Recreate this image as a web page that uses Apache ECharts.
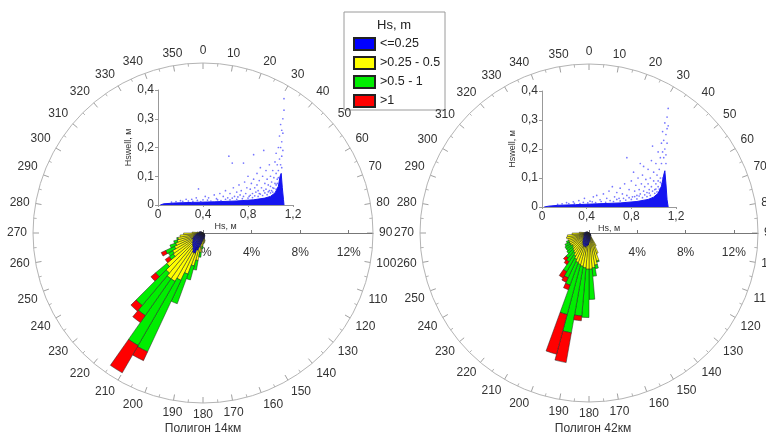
<!DOCTYPE html>
<html>
<head>
<meta charset="utf-8">
<script src="https://cdn.jsdelivr.net/npm/echarts@6/dist/echarts.min.js"></script>
<style>
  html, body { margin: 0; padding: 0; background: #fff; }
  #chart { width: 766px; height: 438px; }
</style>
</head>
<body>
<div id="chart"></div>
<script>
// ---------- data ----------
const classNames = ['<=0.25', '>0.25 - 0.5', '>0.5 - 1', '>1']

// 5-degree direction sectors (sector centres), shared by both roses
const dirs = [122.5, 127.5, 132.5, 137.5, 142.5, 147.5, 152.5, 157.5, 162.5, 167.5,
  172.5, 177.5, 182.5, 187.5, 192.5, 197.5, 202.5, 207.5, 212.5, 217.5,
  222.5, 227.5, 232.5, 237.5, 242.5, 247.5, 252.5, 257.5, 262.5, 267.5,
  272.5, 277.5, 282.5, 287.5, 292.5, 297.5, 302.5]

// Полигон 14км, % per Hs class
const blueL = [0.15, 0.15, 0.2, 0.2, 0.25, 0.25, 0.3, 0.35, 0.4, 0.5,
  0.5, 0.6, 0.7, 0.9, 1.2, 1.5, 1.8, 1.8, 1.6, 1.4,
  1.3, 1.2, 1.1, 1.0, 1.0, 0.9, 0.8, 0.7, 0.6, 0.5,
  0.4, 0.35, 0.3, 0.3, 0.25, 0.2, 0.15]
const yellowL = [0, 0, 0, 0, 0, 0, 0, 0, 0, 0.2,
  0.3, 0.3, 0.4, 0.7, 1.1, 1.3, 1.8, 2.5, 3.0, 3.2,
  3.0, 2.7, 1.9, 1.9, 1.6, 1.5, 1.4, 1.4, 1.3, 1.1,
  0.5, 0.15, 0, 0, 0, 0, 0]
const greenL = [0, 0, 0, 0, 0, 0, 0, 0, 0, 0,
  0, 0, 0.2, 0.4, 0.8, 1.2, 2.6, 6.5, 6.1, 3.7,
  3.5, 1.2, 0.4, 0.4, 0.8, 0.5, 0.3, 0.1, 0, 0,
  0, 0, 0, 0, 0, 0, 0]
const redL = [0, 0, 0, 0, 0, 0, 0, 0, 0, 0,
  0, 0, 0, 0, 0, 0, 0, 0.8, 2.6, 0.7,
  0.6, 0.5, 0.4, 0, 0.4, 0, 0, 0, 0, 0,
  0, 0, 0, 0, 0, 0, 0]

// Полигон 42км, % per Hs class
const blueR = [0.15, 0.15, 0.2, 0.2, 0.25, 0.3, 0.3, 0.4, 0.5, 0.6,
  0.7, 0.8, 1.0, 1.1, 1.2, 1.2, 1.2, 1.1, 1.0, 0.9,
  0.8, 0.7, 0.6, 0.6, 0.5, 0.5, 0.5, 0.5, 0.5, 0.4,
  0.4, 0.3, 0.3, 0.25, 0.2, 0.2, 0.15]
const yellowR = [0, 0, 0, 0, 0, 0, 0.9, 1.4, 1.9, 2.1,
  2.2, 2.2, 2.0, 1.8, 1.6, 1.5, 1.4, 1.3, 1.2, 1.1,
  1.1, 1.1, 1.1, 1.2, 1.3, 1.3, 1.3, 1.4, 1.3, 1.0,
  0.4, 0, 0, 0, 0, 0, 0]
const greenR = [0, 0, 0, 0, 0, 0, 0, 0, 0.1, 0.3,
  0.7, 2.5, 4.0, 4.0, 5.6, 4.3, 2.0, 1.7, 1.5, 0.9,
  0.8, 0.6, 0.6, 0.5, 0.4, 0.2, 0, 0, 0, 0,
  0, 0, 0, 0, 0, 0, 0]
const redR = [0, 0, 0, 0, 0, 0, 0, 0, 0, 0,
  0, 0, 0, 0.4, 2.5, 3.4, 0.4, 0.4, 0.6, 0.3,
  0.3, 0, 0, 0, 0, 0, 0, 0, 0, 0,
  0, 0, 0, 0, 0, 0, 0]

// inset Hswell vs Hs: dense core (upper edge) + scattered points
const coreL = [[0.02, 0], [0.05, 0.004], [0.15, 0.007], [0.3, 0.009], [0.5, 0.011], [0.7, 0.014],
  [0.85, 0.018], [0.95, 0.024], [1.0, 0.03], [1.04, 0.042], [1.07, 0.065], [1.085, 0.1],
  [1.095, 0.11], [1.105, 0.06], [1.115, 0.02], [1.12, 0]]
const pointsL = [[0.2, 0.015], [0.25, 0.02], [0.3, 0.02], [0.34, 0.025], [0.36, 0.056], [0.4, 0.018],
  [0.42, 0.03], [0.45, 0.025], [0.5, 0.035], [0.52, 0.022], [0.55, 0.04], [0.58, 0.03],
  [0.6, 0.05], [0.62, 0.025], [0.63, 0.17], [0.64, 0.04], [0.66, 0.146], [0.67, 0.06],
  [0.68, 0.03], [0.7, 0.045], [0.72, 0.07], [0.73, 0.035], [0.74, 0.05], [0.76, 0.146],
  [0.77, 0.08], [0.78, 0.04], [0.79, 0.06], [0.8, 0.1], [0.81, 0.03], [0.82, 0.055],
  [0.83, 0.075], [0.84, 0.04], [0.85, 0.175], [0.85, 0.09], [0.86, 0.06], [0.87, 0.045],
  [0.88, 0.11], [0.88, 0.07], [0.89, 0.05], [0.9, 0.085], [0.9, 0.04], [0.91, 0.13],
  [0.92, 0.06], [0.93, 0.1], [0.94, 0.19], [0.94, 0.05], [0.95, 0.075], [0.96, 0.12],
  [0.96, 0.055], [0.97, 0.09], [0.98, 0.07], [0.99, 0.14], [0.99, 0.05], [1.0, 0.1],
  [1.0, 0.065], [1.01, 0.08], [1.02, 0.12], [1.02, 0.06], [1.03, 0.095], [1.04, 0.15],
  [1.04, 0.075], [1.05, 0.11], [1.05, 0.18], [1.06, 0.09], [1.06, 0.14], [1.07, 0.2],
  [1.07, 0.12], [1.08, 0.16], [1.08, 0.24], [1.09, 0.14], [1.09, 0.2], [1.09, 0.28],
  [1.1, 0.22], [1.1, 0.17], [1.1, 0.26], [1.11, 0.3], [1.11, 0.19], [1.12, 0.33],
  [1.12, 0.37], [1.11, 0.25], [1.1, 0.13],
  [0.12, 0.01], [0.16, 0.012], [0.22, 0.013], [0.27, 0.014], [0.31, 0.013], [0.35, 0.016],
  [0.38, 0.012], [0.44, 0.017], [0.47, 0.014], [0.53, 0.018], [0.56, 0.015], [0.6, 0.02],
  [0.64, 0.018], [0.66, 0.024], [0.7, 0.02], [0.71, 0.028], [0.75, 0.022], [0.76, 0.03],
  [0.8, 0.024], [0.82, 0.034], [0.84, 0.026], [0.86, 0.032], [0.89, 0.03], [0.91, 0.038],
  [0.93, 0.033], [0.95, 0.042], [0.97, 0.036], [0.98, 0.046], [1.0, 0.042], [1.01, 0.05],
  [1.02, 0.045], [1.03, 0.058], [1.05, 0.055], [1.05, 0.07], [1.06, 0.075], [1.07, 0.095]]

const coreR = [[0.02, 0], [0.06, 0.003], [0.15, 0.006], [0.3, 0.008], [0.5, 0.011], [0.7, 0.014],
  [0.85, 0.019], [0.95, 0.026], [1.0, 0.034], [1.04, 0.047], [1.07, 0.072], [1.09, 0.11],
  [1.1, 0.125], [1.11, 0.08], [1.12, 0.025], [1.13, 0]]
const pointsR = [[0.22, 0.015], [0.28, 0.018], [0.33, 0.022], [0.38, 0.03], [0.43, 0.02], [0.46, 0.035],
  [0.49, 0.04], [0.52, 0.025], [0.55, 0.045], [0.58, 0.03], [0.6, 0.055], [0.63, 0.07],
  [0.65, 0.035], [0.67, 0.05], [0.69, 0.03], [0.7, 0.065], [0.72, 0.045], [0.74, 0.08],
  [0.76, 0.17], [0.76, 0.04], [0.78, 0.06], [0.8, 0.09], [0.81, 0.035], [0.82, 0.12],
  [0.83, 0.055], [0.84, 0.075], [0.85, 0.04], [0.86, 0.1], [0.87, 0.06], [0.88, 0.15],
  [0.88, 0.045], [0.89, 0.08], [0.9, 0.11], [0.91, 0.14], [0.91, 0.055], [0.92, 0.07],
  [0.93, 0.095], [0.94, 0.05], [0.95, 0.13], [0.95, 0.08], [0.96, 0.06], [0.97, 0.1],
  [0.98, 0.16], [0.98, 0.07], [0.99, 0.21], [1.0, 0.09], [1.0, 0.12], [1.01, 0.06],
  [1.02, 0.15], [1.02, 0.08], [1.03, 0.11], [1.04, 0.19], [1.04, 0.09], [1.05, 0.13],
  [1.06, 0.17], [1.06, 0.1], [1.07, 0.22], [1.07, 0.15], [1.08, 0.19], [1.08, 0.26],
  [1.09, 0.17], [1.09, 0.23], [1.1, 0.29], [1.1, 0.2], [1.11, 0.25], [1.11, 0.18],
  [1.12, 0.31], [1.12, 0.22], [1.13, 0.34], [1.13, 0.28], [1.12, 0.27], [1.11, 0.15],
  [0.14, 0.009], [0.18, 0.011], [0.24, 0.012], [0.29, 0.013], [0.34, 0.012], [0.37, 0.016],
  [0.41, 0.014], [0.45, 0.018], [0.48, 0.015], [0.53, 0.019], [0.57, 0.016], [0.61, 0.022],
  [0.64, 0.019], [0.67, 0.026], [0.7, 0.021], [0.73, 0.03], [0.75, 0.024], [0.78, 0.032],
  [0.8, 0.026], [0.83, 0.036], [0.85, 0.028], [0.87, 0.038], [0.9, 0.032], [0.92, 0.042],
  [0.94, 0.036], [0.96, 0.048], [0.97, 0.04], [0.99, 0.055], [1.01, 0.047], [1.02, 0.062],
  [1.03, 0.052], [1.04, 0.07], [1.05, 0.062], [1.06, 0.085], [1.07, 0.08], [1.08, 0.1]]

// ---------- helpers ----------
const FONT = 'Liberation Sans, Arial, sans-serif'
const classColors = ['#0000ff', '#ffff00', '#00ee00', '#ff0000']

// 72 sectors of 5 degrees
const sectorLabels = []
for (let a = 2.5; a < 360; a += 5) sectorLabels.push(String(a))

function toSectors(vals) {
  const out = sectorLabels.map(() => '-')
  dirs.forEach((d, i) => {
    if (vals[i] > 0) out[Math.round((d - 2.5) / 5)] = vals[i]
  })
  return out
}

const commaFmt = (v) => (v === 0 ? '0' : v.toFixed(1).replace('.', ','))

const roses = [
  { center: [203, 233], radius: 170, classes: [blueL, yellowL, greenL, redL], title: 'Полигон 14км', core: coreL, points: pointsL,
    grid: { left: 158, top: 90, width: 135, height: 115 } },
  { center: [589, 233], radius: 169, classes: [blueR, yellowR, greenR, redR], title: 'Полигон 42км', core: coreR, points: pointsR,
    grid: { left: 542, top: 91, width: 134, height: 116 } },
]

const polar = []
const angleAxis = []
const radiusAxis = []
const grid = []
const xAxis = []
const yAxis = []
const series = []
const title = []

roses.forEach((r, k) => {
  const b = k * 3
  polar.push({ center: r.center, radius: r.radius }, { center: r.center, radius: r.radius }, { center: r.center, radius: r.radius })

  // sectors
  angleAxis.push({
    polarIndex: b, type: 'category', data: sectorLabels, startAngle: 90, clockwise: true,
    axisLine: { show: false }, axisTick: { show: false }, axisLabel: { show: false },
    splitLine: { show: false }, splitArea: { show: false }, z: 5,
  })
  radiusAxis.push({ polarIndex: b, type: 'value', min: 0, max: 14, show: false })

  // compass ring
  angleAxis.push({
    polarIndex: b + 1, type: 'value', min: 0, max: 360, interval: 10, startAngle: 90, clockwise: true,
    axisLine: { lineStyle: { color: '#b4b4b4', width: 1 } },
    axisTick: { inside: true, length: 6, lineStyle: { color: '#a0a0a0' } },
    minorTick: { show: true, splitNumber: 2, length: 3, lineStyle: { color: '#b4b4b4' } },
    axisLabel: { margin: 6, fontSize: 12, color: '#333', fontFamily: FONT, formatter: (v) => (v === 360 ? '' : String(v)) },
    splitLine: { show: false }, minorSplitLine: { show: false },
  })
  radiusAxis.push({ polarIndex: b + 1, type: 'value', min: 0, max: 14, show: false })

  // percent axis toward 90
  angleAxis.push({ polarIndex: b + 2, type: 'value', min: 0, max: 360, startAngle: 0, show: false })
  radiusAxis.push({
    polarIndex: b + 2, type: 'value', min: 0, max: 14, interval: 4,
    axisLine: { lineStyle: { color: '#777', width: 1 } },
    axisTick: { show: true, length: 3, lineStyle: { color: '#777' } },
    axisLabel: { formatter: '{value}%', showMaxLabel: false, margin: -26, fontSize: 12, color: '#333', fontFamily: FONT },
    splitLine: { show: false },
  })

  r.classes.forEach((vals, c) => {
    series.push({
      name: classNames[c], type: 'bar', coordinateSystem: 'polar', polarIndex: b,
      stack: 'rose' + k, barCategoryGap: '0%', data: toSectors(vals),
      itemStyle: { color: classColors[c], borderColor: '#222', borderWidth: 0.5 },
      z: 3,
    })
  })

  // inset scatter
  grid.push(r.grid)
  xAxis.push({
    gridIndex: k, type: 'value', min: 0, max: 1.2, interval: 0.4,
    name: 'Hs, м', nameLocation: 'middle', nameGap: 13,
    nameTextStyle: { fontSize: 9, color: '#333', fontFamily: FONT },
    axisLine: { lineStyle: { color: '#999' } }, axisTick: { show: true, length: 2 },
    axisLabel: { fontSize: 12, color: '#333', margin: 4, fontFamily: FONT, formatter: commaFmt },
    splitLine: { show: false },
  })
  yAxis.push({
    gridIndex: k, type: 'value', min: 0, max: 0.4, interval: 0.1,
    name: 'Hswell, м', nameLocation: 'middle', nameGap: 25,
    nameTextStyle: { fontSize: 9, color: '#333', fontFamily: FONT },
    axisLine: { show: true, lineStyle: { color: '#999' } }, axisTick: { show: true, length: 3 },
    axisLabel: { fontSize: 12, color: '#333', margin: 4, fontFamily: FONT, formatter: commaFmt },
    splitLine: { show: false },
  })
  series.push({
    type: 'line', xAxisIndex: k, yAxisIndex: k, data: r.core, symbol: 'none',
    lineStyle: { width: 1, color: '#1515f0' }, areaStyle: { color: '#1515f0', opacity: 1 },
    silent: true, z: 2,
  })
  series.push({
    type: 'scatter', xAxisIndex: k, yAxisIndex: k, data: r.points, symbolSize: 1.7,
    itemStyle: { color: '#3a3aff', opacity: 0.7 }, silent: true, z: 2,
  })

  title.push({
    text: r.title, left: r.center[0] + (k ? 4 : 0), top: 423, textAlign: 'center', padding: 0,
    textStyle: { fontSize: 12, fontWeight: 'normal', color: '#333', fontFamily: FONT },
  })
})

title.push({
  text: 'Hs, m', left: 394, top: 19, textAlign: 'center', padding: 0,
  textStyle: { fontSize: 13, fontWeight: 'normal', color: '#222', fontFamily: FONT },
})

const chart = echarts.init(document.getElementById('chart'))
chart.setOption({
  animation: false,
  backgroundColor: '#fff',
  title,
  legend: {
    data: classNames, orient: 'vertical', left: 353, top: 37, padding: 0,
    itemWidth: 21, itemHeight: 12, itemGap: 5, icon: 'rect',
    textStyle: { fontSize: 12.5, color: '#222', fontFamily: FONT },
  },
  graphic: [{
    type: 'rect', shape: { x: 344, y: 12, width: 101, height: 98 },
    style: { fill: 'none', stroke: '#9a9a9a', lineWidth: 1 }, silent: true,
  }],
  polar,
  angleAxis,
  radiusAxis,
  grid,
  xAxis,
  yAxis,
  series,
})
</script>
</body>
</html>
